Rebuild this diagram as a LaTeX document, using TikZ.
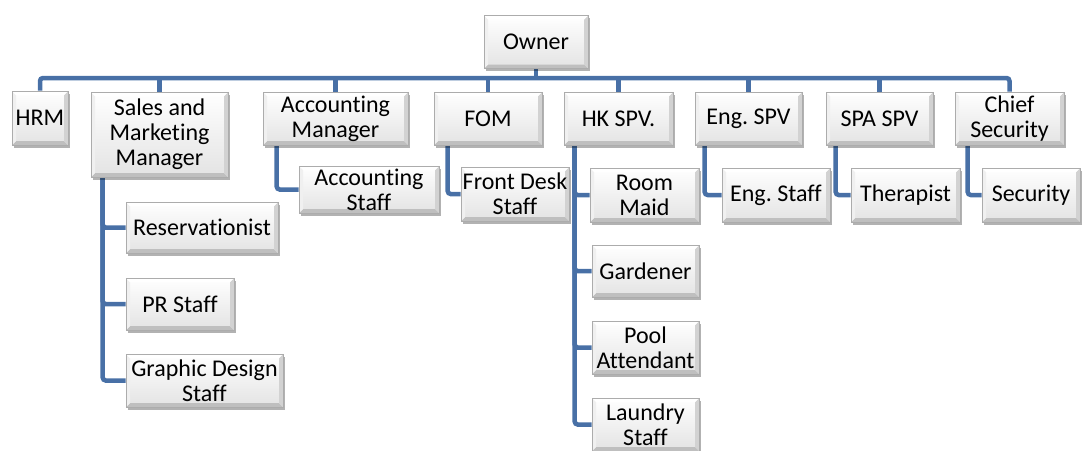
\documentclass[tikz,border=0pt]{standalone}
\usepackage{fontspec}
\setmainfont{Carlito}[Ligatures={NoCommon}]
\frenchspacing
\usetikzlibrary{calc,shadows,backgrounds}
\definecolor{lineblue}{RGB}{72,112,166}
\tikzset{
  orgbox/.style={rectangle, draw=gray!65, line width=0.6pt,
    top color=white, bottom color=gray!22,
    drop shadow={shadow xshift=2pt, shadow yshift=-2.5pt, opacity=0.3, fill=black},
    align=center, font=\fontsize{24}{25}\selectfont, inner sep=1pt,
    path picture={
      \path (path picture bounding box.south west) coordinate (pSW)
            (path picture bounding box.south east) coordinate (pSE)
            (path picture bounding box.north east) coordinate (pNE)
            (path picture bounding box.north west) coordinate (pNW);
      \fill[gray!50] (pSW) -- (pSE) -- ([shift={(-4pt,4pt)}]pSE) -- ([shift={(4pt,4pt)}]pSW) -- cycle;
      \fill[gray!35] (pSE) -- (pNE) -- ([shift={(-4pt,-4pt)}]pNE) -- ([shift={(-4pt,4pt)}]pSE) -- cycle;
      \fill[gray!12] (pNW) -- (pSW) -- ([shift={(4pt,4pt)}]pSW) -- ([shift={(4pt,-4pt)}]pNW) -- cycle;
      \fill[white] (pNW) -- (pNE) -- ([shift={(-4pt,-4pt)}]pNE) -- ([shift={(4pt,-4pt)}]pNW) -- cycle;
    }},
  conn/.style={draw=lineblue, line width=4.5pt, rounded corners=3pt},
}
\begin{document}
\begin{tikzpicture}[x=1pt,y=-1pt]
\useasboundingbox (0,0) rectangle (1086,450);
% top
\node[orgbox, minimum width=104pt, minimum height=53pt] (owner) at (536,42) {Owner};
% first row
\node[orgbox, minimum width=56pt, minimum height=54pt] (hrm) at (40,118) {HRM};
\node[orgbox, minimum width=137pt, minimum height=85pt] (sales) at (159.5,134.5) {Sales and\\Marketing\\Manager};
\node[orgbox, minimum width=145pt, minimum height=53pt] (acm) at (335.5,118.5) {Accounting\\Manager};
\node[orgbox, minimum width=108pt, minimum height=53pt] (fom) at (488,118.5) {FOM};
\node[orgbox, minimum width=109pt, minimum height=53pt] (hk) at (618.5,118.5) {HK SPV.};
\node[orgbox, minimum width=107pt, minimum height=53pt] (eng) at (748.5,118.5) {Eng. SPV};
\node[orgbox, minimum width=107pt, minimum height=53pt] (spa) at (879.5,118.5) {SPA SPV};
\node[orgbox, minimum width=109pt, minimum height=53pt] (chief) at (1009.5,118.5) {Chief\\Security};
% second row
\node[orgbox, minimum width=140pt, minimum height=47pt] (accstaff) at (369,189.5) {Accounting\\Staff};
\node[orgbox, minimum width=108pt, minimum height=54pt] (fds) at (515,194) {Front Desk\\Staff};
\node[orgbox, minimum width=109pt, minimum height=54pt] (maid) at (644.5,195) {Room\\Maid};
\node[orgbox, minimum width=108pt, minimum height=54pt] (engstaff) at (776,195) {Eng. Staff};
\node[orgbox, minimum width=109pt, minimum height=54pt] (ther) at (905.5,195) {Therapist};
\node[orgbox, minimum width=98pt, minimum height=54pt] (sec) at (1031,195) {Security};
% sales children
\node[orgbox, minimum width=152pt, minimum height=51pt] (res) at (202,227.5) {Reservationist};
\node[orgbox, minimum width=108pt, minimum height=52pt] (pr) at (180,304) {PR Staff};
\node[orgbox, minimum width=157pt, minimum height=53pt] (gd) at (204.5,380.5) {Graphic Design\\Staff};
% hk children
\node[orgbox, minimum width=107pt, minimum height=52pt] (gard) at (645.5,271) {Gardener};
\node[orgbox, minimum width=107pt, minimum height=53pt] (pool) at (645.5,347.5) {Pool\\Attendant};
\node[orgbox, minimum width=107pt, minimum height=53pt] (laun) at (645.5,424.5) {Laundry\\Staff};
\coordinate (bus) at (536,78);
\begin{pgfonlayer}{background}
\draw[conn] (owner.south) -- (bus);
\draw[conn] (hrm.north) |- (bus) -| (chief.north);
\foreach \n in {sales,acm,fom,hk,eng,spa} {\draw[conn] (\n.north) -- (\n.north |- bus);}
\draw[conn] ($(acm.south west)+(14,0)$) |- (accstaff.west);
\draw[conn] ($(fom.south west)+(14,0)$) |- (fds.west);
\draw[conn] ($(eng.south west)+(10,0)$) |- (engstaff.west);
\draw[conn] ($(spa.south west)+(10,0)$) |- (ther.west);
\draw[conn] ($(chief.south west)+(13,0)$) |- (sec.west);
\draw[conn] ($(sales.south west)+(12,0)$) |- (res.west);
\draw[conn] ($(sales.south west)+(12,0)$) |- (pr.west);
\draw[conn] ($(sales.south west)+(12,0)$) |- (gd.west);
\draw[conn] ($(hk.south west)+(11,0)$) |- (maid.west);
\draw[conn] ($(hk.south west)+(11,0)$) |- (gard.west);
\draw[conn] ($(hk.south west)+(11,0)$) |- (pool.west);
\draw[conn] ($(hk.south west)+(11,0)$) |- (laun.west);
\end{pgfonlayer}
\end{tikzpicture}
\end{document}
